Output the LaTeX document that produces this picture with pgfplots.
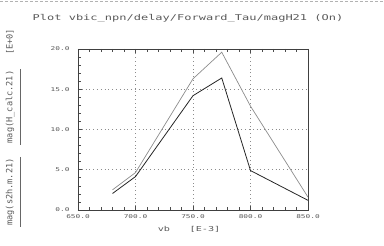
\documentclass[border=0pt]{standalone}
\usepackage{pgfplots}
\pgfplotsset{compat=1.18}
\usepackage{fontspec}
\newfontfamily\pf[FakeStretch=1.5]{DejaVu Sans Mono}
\newfontfamily\lf{DejaVu Sans Mono}
\definecolor{txt}{gray}{0.35}
\definecolor{upper}{gray}{0.55}
\definecolor{lower}{gray}{0.15}
\begin{document}
\begin{tikzpicture}[x=1pt,y=1pt]
\begin{axis}[
  at={(0,0)}, anchor=south west,
  scale only axis, width=230pt, height=161pt,
  xmin=650, xmax=850, ymin=0, ymax=20,
  xtick={650,700,750,800,850},
  ytick={0,5,10,15,20},
  minor x tick num=4, minor y tick num=4,
  xtick pos=both, ytick pos=left,
  tick align=inside,
  major tick length=4pt, minor tick length=3pt,
  tick style={line width=0.6pt, color=black!70},
  axis line style={line width=0.8pt, color=black!75},
  grid=major,
  major grid style={dash pattern=on 0.8pt off 3pt, line width=0.5pt, color=black!45},
  /pgf/number format/assume math mode=true,
  /pgf/number format/.cd, fixed, fixed zerofill, precision=1, 1000 sep={},
  /pgfplots/.cd,
  ticklabel style={font=\pf\fontsize{5.2}{6}\selectfont, text=txt},
  xticklabel style={yshift=-1pt},
  yticklabel style={xshift=-5pt},
]
\addplot[color=upper, line width=0.7pt] coordinates {
  (680,2.5) (700,4.65) (750,16.3) (775,19.6) (800,12.9) (850,1.6)
};
\addplot[color=lower, line width=0.8pt] coordinates {
  (680,2.05) (700,4.15) (750,14.2) (775,16.4) (800,4.9) (850,1.2)
};
\end{axis}
% title and labels
\node[text=txt, font=\pf\fontsize{8}{9}\selectfont] at (110,192) {Plot vbic\_npn/delay/Forward\_Tau/magH21 (On)};
\node[text=txt, font=\pf\fontsize{6.8}{8}\selectfont] at (86,-19) {vb};
\node[text=txt, font=\pf\fontsize{6.8}{8}\selectfont] at (127,-19) {[E-3]};
\node[text=txt, rotate=90, font=\lf\fontsize{8.6}{10}\selectfont] at (-68,18) {mag(s2h.m.21)};
\node[text=txt, rotate=90, font=\lf\fontsize{8.6}{10}\selectfont] at (-68,103) {mag(H\_calc.21)};
\node[text=txt, rotate=90, font=\lf\fontsize{8.6}{10}\selectfont] at (-68,168) {[E+0]};
\draw[color=black!60, line width=0.7pt] (-58,53) -- (-58,-17);
\draw[color=black!60, line width=0.7pt] (-58,141) -- (-58,65);
\draw[color=black!30, line width=0.6pt, dash pattern=on 3pt off 2pt] (-78,209) -- (306,209);
\pgfresetboundingbox
\path[use as bounding box] (-78,-36) rectangle (306,210);
\end{tikzpicture}
\end{document}
